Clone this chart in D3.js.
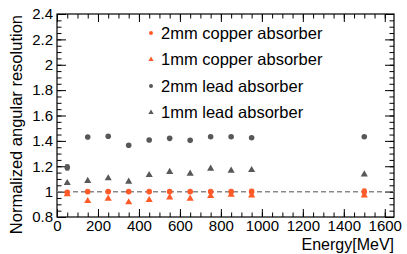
<!DOCTYPE html>
<html>
<head>
<meta charset="utf-8">
<script src="https://cdn.jsdelivr.net/npm/d3@7"></script>
<style>
  body { margin: 0; background: #fff; }
  svg { display: block; font-family: "Liberation Sans", Arial, sans-serif; }
  .axis path { display: none; }
  .axis line { stroke: #000; stroke-width: 1; }
  .axis text { font-size: 15px; fill: #000; font-family: "Liberation Sans", Arial, sans-serif; }
</style>
</head>
<body>
<div id="chart"></div>
<script>
// energies (MeV)
const energy = [50, 150, 250, 350, 450, 550, 650, 750, 850, 950, 1500];

// normalized angular resolution per absorber
const copper2mm = [0.995, 1.0, 1.0, 1.0, 1.0, 1.0, 1.0, 1.0, 1.0, 1.0, 1.0];
const copper2mmErr = [0.01, 0, 0, 0, 0, 0, 0, 0, 0.012, 0.018, 0.02];
const copper1mm = [0.98, 0.926, 0.944, 0.916, 0.934, 0.955, 0.944, 0.965, 0.975, 0.97, 0.97];
const lead2mm = [1.191, 1.43, 1.436, 1.365, 1.407, 1.42, 1.404, 1.433, 1.433, 1.425, 1.433];
const lead2mmErr = [0.02, 0, 0, 0, 0, 0, 0, 0, 0, 0, 0];
const lead1mm = [1.068, 1.084, 1.105, 1.078, 1.131, 1.155, 1.141, 1.181, 1.165, 1.17, 1.136];

const xTicks = [0, 200, 400, 600, 800, 1000, 1200, 1400, 1600];
const yTicks = [0.8, 1, 1.2, 1.4, 1.6, 1.8, 2, 2.2, 2.4];
const legendLabels = ["2mm copper absorber", "1mm copper absorber", "2mm lead absorber", "1mm lead absorber"];

const orange = "#ff5a28";
const grey = "#585858";

const W = 407, H = 254;
const frame = { left: 57, right: 394, top: 14, bottom: 217 };

const svg = d3.select("#chart").append("svg")
    .attr("width", W)
    .attr("height", H);

const x = d3.scaleLinear().domain([0, 1645]).range([frame.left, frame.right]);
const y = d3.scaleLinear().domain([0.8, 2.4]).range([frame.bottom, frame.top]);

const xMinor = d3.range(0, 1645, 50);
const yMinor = d3.range(0, 33).map(i => 0.8 + i * 0.05);
const fmt = d => d3.format("~g")(+d.toFixed(2));

// minor ticks, all four sides
svg.append("g").attr("class", "axis")
    .attr("transform", `translate(0,${frame.bottom})`)
    .call(d3.axisBottom(x).tickValues(xMinor).tickSize(-4.5).tickFormat(""));
svg.append("g").attr("class", "axis")
    .attr("transform", `translate(0,${frame.top})`)
    .call(d3.axisTop(x).tickValues(xMinor).tickSize(-4.5).tickFormat(""));
svg.append("g").attr("class", "axis")
    .attr("transform", `translate(${frame.left},0)`)
    .call(d3.axisLeft(y).tickValues(yMinor).tickSize(-4.5).tickFormat(""));
svg.append("g").attr("class", "axis")
    .attr("transform", `translate(${frame.right},0)`)
    .call(d3.axisRight(y).tickValues(yMinor).tickSize(-4.5).tickFormat(""));

// major ticks
svg.append("g").attr("class", "axis")
    .attr("transform", `translate(0,${frame.bottom})`)
    .call(d3.axisBottom(x).tickValues(xTicks).tickSize(-8).tickPadding(3).tickFormat(fmt));
svg.append("g").attr("class", "axis")
    .attr("transform", `translate(0,${frame.top})`)
    .call(d3.axisTop(x).tickValues(xTicks).tickSize(-8).tickFormat(""));
svg.append("g").attr("class", "axis")
    .attr("transform", `translate(${frame.left},0)`)
    .call(d3.axisLeft(y).tickValues(yTicks).tickSize(-9).tickPadding(4).tickFormat(fmt));
svg.append("g").attr("class", "axis")
    .attr("transform", `translate(${frame.right},0)`)
    .call(d3.axisRight(y).tickValues(yTicks).tickSize(-9).tickFormat(""));

// frame
svg.append("rect")
    .attr("x", frame.left)
    .attr("y", frame.top)
    .attr("width", frame.right - frame.left)
    .attr("height", frame.bottom - frame.top)
    .attr("fill", "none")
    .attr("stroke", "#000")
    .attr("stroke-width", 1.2);

// reference line at 1
svg.append("line")
    .attr("x1", frame.left)
    .attr("x2", frame.right)
    .attr("y1", y(1))
    .attr("y2", y(1))
    .attr("stroke", "#888")
    .attr("stroke-width", 1.5)
    .attr("stroke-dasharray", "5,3");

const tri = d3.symbol().type(d3.symbolTriangle);

function drawErrors(vals, errs, color) {
    const pts = energy.map((e, i) => ({ e, v: vals[i], err: errs[i] })).filter(d => d.err > 0);
    const g = svg.append("g").attr("stroke", color).attr("stroke-width", 1.2);
    g.selectAll("line.bar").data(pts).enter().append("line")
        .attr("x1", d => x(d.e)).attr("x2", d => x(d.e))
        .attr("y1", d => y(d.v - d.err)).attr("y2", d => y(d.v + d.err));
    g.selectAll("line.capLo").data(pts).enter().append("line")
        .attr("x1", d => x(d.e) - 2).attr("x2", d => x(d.e) + 2)
        .attr("y1", d => y(d.v - d.err)).attr("y2", d => y(d.v - d.err));
    g.selectAll("line.capHi").data(pts).enter().append("line")
        .attr("x1", d => x(d.e) - 2).attr("x2", d => x(d.e) + 2)
        .attr("y1", d => y(d.v + d.err)).attr("y2", d => y(d.v + d.err));
}

function drawCircles(vals, color) {
    svg.append("g").selectAll("circle")
        .data(energy.map((e, i) => [e, vals[i]]))
        .enter().append("circle")
        .attr("cx", d => x(d[0]))
        .attr("cy", d => y(d[1]))
        .attr("r", 2.8)
        .attr("fill", color);
}

function drawTriangles(vals, color) {
    svg.append("g").selectAll("path")
        .data(energy.map((e, i) => [e, vals[i]]))
        .enter().append("path")
        .attr("d", tri.size(22))
        .attr("transform", d => `translate(${x(d[0])},${y(d[1])})`)
        .attr("fill", color);
}

drawErrors(lead2mm, lead2mmErr, grey);
drawCircles(lead2mm, grey);
drawTriangles(lead1mm, grey);
drawErrors(copper2mm, copper2mmErr, orange);
drawTriangles(copper1mm, orange);
drawCircles(copper2mm, orange);

// legend
const legendColors = [orange, orange, grey, grey];
const legendShapes = ["circle", "triangle", "circle", "triangle"];
const legend = svg.append("g");
legendLabels.forEach((label, i) => {
    const base = 38.5 + i * 26.5;
    if (legendShapes[i] === "circle") {
        legend.append("circle")
            .attr("cx", 151).attr("cy", base - 5.5).attr("r", 2)
            .attr("fill", legendColors[i]);
    } else {
        legend.append("path")
            .attr("d", d3.symbol().type(d3.symbolTriangle).size(12)())
            .attr("transform", `translate(151,${base - 5.5})`)
            .attr("fill", legendColors[i]);
    }
    legend.append("text")
        .attr("x", 161)
        .attr("y", base)
        .attr("font-size", 16.5)
        .attr("fill", "#000")
        .text(label);
});

// axis titles
svg.append("text")
    .attr("x", frame.right)
    .attr("y", 249.5)
    .attr("text-anchor", "end")
    .attr("font-size", 16)
    .text("Energy[MeV]");

svg.append("text")
    .attr("transform", "translate(21.5,15) rotate(-90)")
    .attr("text-anchor", "end")
    .attr("font-size", 16.5)
    .text("Normalized angular resolution");
</script>
</body>
</html>
